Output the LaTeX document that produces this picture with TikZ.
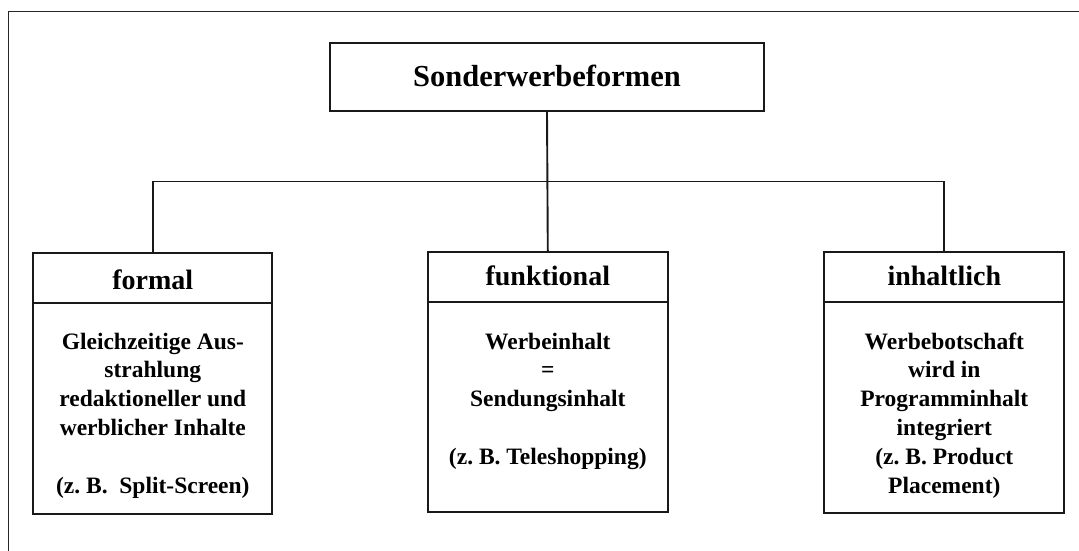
\documentclass[tikz,border=0pt]{standalone}
\usepackage{fontspec}
\setmainfont{Liberation Serif}
\frenchspacing
\begin{document}
\begin{tikzpicture}[x=1pt,y=-1pt,
  ln/.style={line width=1.9pt, black!90},
  box/.style={draw, ln, rectangle, inner sep=0pt},
  titletext/.style={font=\fontsize{30.5}{36}\selectfont\bfseries, inner sep=0pt, anchor=base},
  headtext/.style={font=\fontsize{28}{33}\selectfont\bfseries, inner sep=0pt, anchor=base},
  bodytext/.style={font=\fontsize{23.5}{28.8}\selectfont\bfseries\frenchspacing, inner sep=0pt, anchor=north, align=center}]
\useasboundingbox (0,0) rectangle (1079,551);
% outer frame (only top and left visible)
\coordinate (fbl) at (8.5,551);
\coordinate (ftl) at (8.5,11.5);
\coordinate (ftr) at (1079,11.5);
\draw[line width=1.6pt, black!85] (fbl) -- (ftl) -- (ftr);
% top box
\node[box, minimum width=433.7pt, minimum height=68.3pt] (top) at (547,76.9) {};
\node[titletext] (toptext) at (547,87) {Sonderwerbeformen};
% category boxes
\node[box, minimum width=239pt, minimum height=260.7pt] (formal) at (152.8,383.7) {};
\node[box, minimum width=239.7pt, minimum height=260.3pt] (funk) at (547.8,382.2) {};
\node[box, minimum width=240pt, minimum height=261.3pt] (inh) at (944.3,382.3) {};
% dividers
\coordinate (fdl) at (33.3,303.3); \coordinate (fdr) at (272.3,303.3);
\coordinate (kdl) at (428,302); \coordinate (kdr) at (667.7,302);
\coordinate (idl) at (824.3,302.3); \coordinate (idr) at (1064.3,302.3);
\draw[ln] (fdl) -- (fdr);
\draw[ln] (kdl) -- (kdr);
\draw[ln] (idl) -- (idr);
% headers
\node[headtext] (fh) at (152.8,289) {formal};
\node[headtext] (kh) at (547.8,285.7) {funktional};
\node[headtext] (ih) at (944.3,285.7) {inhaltlich};
% bodies
\node[bodytext] (fb) at (152.8,328.8) {\strut Gleichzeitige Aus-\\strahlung\\redaktioneller und\\werblicher Inhalte\\[28.8pt](z. B.\ \ Split-Screen)};
\node[bodytext] (kb) at (547.8,328.8) {\strut Werbeinhalt\\=\\Sendungsinhalt\\[28.8pt](z. B. Teleshopping)};
\node[bodytext] (ib) at (944.3,328.8) {\strut Werbebotschaft\\wird in\\Programminhalt\\integriert\\(z. B. Product\\Placement)};
% connectors
\coordinate (bar) at (547.5,181.5);
\draw[ln] (top.south) -- (funk.north);
\draw[ln] (formal.north) |- (bar) -| (inh.north);
\end{tikzpicture}
\end{document}
